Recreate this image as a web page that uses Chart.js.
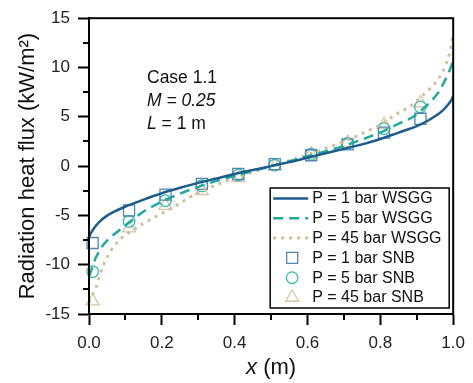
<!DOCTYPE html>
<html>
<head>
<meta charset="utf-8">
<script src="https://cdn.jsdelivr.net/npm/chart.js@4"></script>
<style>
  html, body { margin: 0; padding: 0; background: #ffffff; }
  canvas { display: block; }
</style>
</head>
<body>
<canvas id="c" width="473" height="383"></canvas>
<script>
// ---- data ----
const xWSGG1 = [0, 0.005, 0.01, 0.02, 0.03, 0.045, 0.065, 0.1, 0.15, 0.2, 0.25, 0.3, 0.35, 0.4, 0.45, 0.5, 0.55, 0.6, 0.65, 0.7, 0.75, 0.8, 0.85, 0.9, 0.93, 0.95, 0.97, 0.985, 0.995, 1.0];
const yWSGG1 = [-7.2, -6.8, -6.5, -6.0, -5.6, -5.15, -4.7, -4.1, -3.4, -2.75, -2.2, -1.7, -1.25, -0.8, -0.4, 0, 0.4, 0.85, 1.3, 1.75, 2.2, 2.75, 3.4, 4.05, 4.6, 5.05, 5.6, 6.2, 6.7, 7.1];

const xWSGG5 = [0, 0.005, 0.012, 0.02, 0.03, 0.04, 0.06, 0.08, 0.1, 0.125, 0.15, 0.2, 0.25, 0.3, 0.35, 0.4, 0.45, 0.5, 0.55, 0.6, 0.65, 0.7, 0.75, 0.8, 0.85, 0.89, 0.92, 0.94, 0.96, 0.975, 0.988, 1.0];
const yWSGG5 = [-11.2, -10.7, -9.9, -9.2, -8.5, -7.95, -7.2, -6.6, -6.0, -5.3, -4.6, -3.6, -2.8, -2.1, -1.5, -1.0, -0.5, 0, 0.5, 1.0, 1.5, 2.05, 2.7, 3.4, 4.3, 5.0, 5.9, 6.6, 7.5, 8.5, 9.5, 10.7];

const xWSGG45 = [0, 0.008, 0.015, 0.023, 0.03, 0.045, 0.06, 0.08, 0.1, 0.125, 0.15, 0.19, 0.23, 0.27, 0.31, 0.35, 0.4, 0.45, 0.5, 0.55, 0.6, 0.65, 0.7, 0.75, 0.8, 0.85, 0.88, 0.92, 0.95, 0.97, 0.98, 0.99, 0.995, 1.0];
const yWSGG45 = [-13.8, -13.1, -12.7, -11.9, -11.0, -9.6, -8.6, -7.6, -7.0, -6.4, -5.8, -5.0, -4.2, -3.3, -2.5, -1.9, -1.2, -0.6, 0, 0.55, 1.15, 1.8, 2.5, 3.3, 4.2, 5.4, 6.0, 7.3, 8.4, 9.5, 10.3, 11.4, 12.3, 13.5];

const xSNB = [0.01, 0.11, 0.21, 0.31, 0.41, 0.51, 0.61, 0.71, 0.81, 0.91];
const ySNB1 = [-7.8, -4.5, -2.9, -1.8, -0.8, 0.2, 1.1, 2.2, 3.4, 4.8];
const ySNB5 = [-10.7, -5.6, -3.5, -2.0, -0.9, 0.1, 1.2, 2.3, 3.8, 6.0];
const ySNB45 = [-13.7, -6.3, -4.0, -2.5, -1.2, 0.0, 1.2, 2.4, 4.2, 6.4];

const seriesLabels = ['P = 1 bar WSGG', 'P = 5 bar WSGG', 'P = 45 bar WSGG', 'P = 1 bar SNB', 'P = 5 bar SNB', 'P = 45 bar SNB'];
const minorTicksX = [0.1, 0.3, 0.5, 0.7, 0.9];
const minorTicksY = [-12.5, -7.5, -2.5, 2.5, 7.5, 12.5];
const annotationLines = [
  [{t: 'Case 1.1', i: false}],
  [{t: 'M = 0.25', i: true}],
  [{t: 'L', i: true}, {t: ' = 1 m', i: false}]
];
const xTitleParts = [{t: 'x', i: true}, {t: ' (m)', i: false}];
const yTitle = 'Radiation heat flux (kW/m\u00B2)';

// ---- helpers ----
const FONT = '"Liberation Sans", Arial, Helvetica, sans-serif';
const pts = (xs, ys) => xs.map((x, k) => ({x: x, y: ys[k]}));

function drawMixed(ctx, parts, x, y, size, align) {
  let total = 0;
  const widths = parts.map(p => {
    ctx.font = (p.i ? 'italic ' : '') + size + 'px ' + FONT;
    const w = ctx.measureText(p.t).width; total += w; return w;
  });
  let cx = align === 'center' ? x - total / 2 : x;
  parts.forEach((p, k) => {
    ctx.font = (p.i ? 'italic ' : '') + size + 'px ' + FONT;
    ctx.textAlign = 'left';
    ctx.fillText(p.t, cx, y);
    cx += widths[k];
  });
}

function drawMarker(ctx, style, x, y, r) {
  ctx.beginPath();
  if (style === 'rect') {
    const s = Math.SQRT1_2 * r;
    ctx.rect(x - s, y - s, 2 * s, 2 * s);
  } else if (style === 'circle') {
    ctx.arc(x, y, r, 0, Math.PI * 2);
  } else if (style === 'triangle') {
    ctx.moveTo(x, y - r);
    ctx.lineTo(x + r * Math.sin(Math.PI / 3), y + r * 0.5);
    ctx.lineTo(x - r * Math.sin(Math.PI / 3), y + r * 0.5);
    ctx.closePath();
  }
  ctx.stroke();
}

const decorPlugin = {
  id: 'decor',
  afterDraw(chart) {
    const ctx = chart.ctx;
    const ca = chart.chartArea;
    const xs = chart.scales.x, ys = chart.scales.y;
    ctx.save();
    // frame
    ctx.strokeStyle = '#000';
    ctx.lineWidth = 2;
    ctx.strokeRect(ca.left, ca.top, ca.right - ca.left, ca.bottom - ca.top);
    // minor ticks
    ctx.lineWidth = 2;
    ctx.beginPath();
    minorTicksX.forEach(v => {
      const px = Math.round(xs.getPixelForValue(v));
      ctx.moveTo(px, ca.bottom); ctx.lineTo(px, ca.bottom + 6);
    });
    minorTicksY.forEach(v => {
      const py = Math.round(ys.getPixelForValue(v));
      ctx.moveTo(ca.left, py); ctx.lineTo(ca.left - 6, py);
    });
    ctx.stroke();

    // annotation
    ctx.fillStyle = '#111';
    ctx.textBaseline = 'middle';
    const ax = ca.left + 58;
    const ay = [ca.top + 60, ca.top + 83, ca.top + 105.5];
    annotationLines.forEach((parts, k) => drawMixed(ctx, parts, ax, ay[k], 17.5, 'left'));

    // x axis title
    drawMixed(ctx, xTitleParts, (ca.left + ca.right) / 2, 368, 22, 'center');

    // legend
    const lw = 179, lh = 120;
    const lx = ca.right - 183, ly = ca.bottom - 126;
    ctx.fillStyle = '#fff';
    ctx.fillRect(lx, ly, lw, lh);
    ctx.strokeStyle = '#000';
    ctx.lineWidth = 1.5;
    ctx.setLineDash([]);
    ctx.strokeRect(lx, ly, lw, lh);
    chart.data.datasets.forEach((ds, k) => {
      const ry = ly + 10.5 + k * 19.8;
      ctx.save();
      ctx.strokeStyle = ds.borderColor;
      if (ds.showLine !== false) {
        ctx.lineWidth = ds.borderWidth;
        ctx.setLineDash(ds.borderDash || []);
        ctx.beginPath();
        ctx.moveTo(lx + 3, ry); ctx.lineTo(lx + 38, ry);
        ctx.stroke();
      } else {
        ctx.lineWidth = ds.pointBorderWidth;
        ctx.setLineDash([]);
        drawMarker(ctx, ds.pointStyle, lx + 22, ry, ds.pointRadius);
      }
      ctx.restore();
      ctx.fillStyle = '#111';
      ctx.font = '16px ' + FONT;
      ctx.textAlign = 'left';
      ctx.textBaseline = 'middle';
      ctx.fillText(ds.label, lx + 42, ry + 0.5);
    });
    ctx.restore();
  }
};

const lineDs = (label, xs, ys, color, width, dash) => ({
  label: label, data: pts(xs, ys), borderColor: color, backgroundColor: color,
  borderWidth: width, borderDash: dash, pointRadius: 0, pointHoverRadius: 0,
  cubicInterpolationMode: 'monotone', fill: false, showLine: true
});
const markDs = (label, ys, color, style, r) => ({
  label: label, data: pts(xSNB, ys), borderColor: color, backgroundColor: 'rgba(0,0,0,0)',
  pointBorderColor: color, pointBackgroundColor: 'rgba(0,0,0,0)', pointBorderWidth: 1.3,
  pointStyle: style, pointRadius: r, pointHoverRadius: r, showLine: false, clip: false
});

new Chart(document.getElementById('c'), {
  type: 'line',
  data: {
    datasets: [
      lineDs(seriesLabels[0], xWSGG1, yWSGG1, '#1d5c8c', 2.5, []),
      lineDs(seriesLabels[1], xWSGG5, yWSGG5, '#1eaa9c', 2.5, [10, 6]),
      lineDs(seriesLabels[2], xWSGG45, yWSGG45, '#d2bf9c', 3, [3, 5]),
      markDs(seriesLabels[3], ySNB1, '#4f86b5', 'rect', 7.8),
      markDs(seriesLabels[4], ySNB5, '#36bdb0', 'circle', 5.8),
      markDs(seriesLabels[5], ySNB45, '#d6c6a6', 'triangle', 7.5)
    ]
  },
  options: {
    responsive: false,
    devicePixelRatio: 1,
    animation: false,
    events: [],
    layout: { padding: { top: 17, right: 15, left: 0, bottom: 0 } },
    plugins: { legend: { display: false }, tooltip: { enabled: false } },
    scales: {
      x: {
        type: 'linear', min: 0, max: 1,
        afterFit: s => { s.height = 69; },
        ticks: {
          stepSize: 0.2, padding: 8, color: '#222',
          font: { family: FONT, size: 17 },
          callback: v => Number(v).toFixed(1)
        },
        grid: { drawOnChartArea: false, tickLength: 11, tickWidth: 2, tickColor: '#000' },
        border: { display: true, color: '#000', width: 2 }
      },
      y: {
        type: 'linear', min: -15, max: 15,
        afterFit: s => { s.width = 89; },
        ticks: {
          stepSize: 5, padding: 8, color: '#222',
          font: { family: FONT, size: 17 },
          callback: v => String(v)
        },
        title: {
          display: true, text: yTitle, color: '#111',
          font: { family: FONT, size: 22 },
          padding: { top: 15, bottom: 0 }
        },
        grid: { drawOnChartArea: false, tickLength: 11, tickWidth: 2, tickColor: '#000' },
        border: { display: true, color: '#000', width: 2 }
      }
    }
  },
  plugins: [decorPlugin]
});
</script>
</body>
</html>
